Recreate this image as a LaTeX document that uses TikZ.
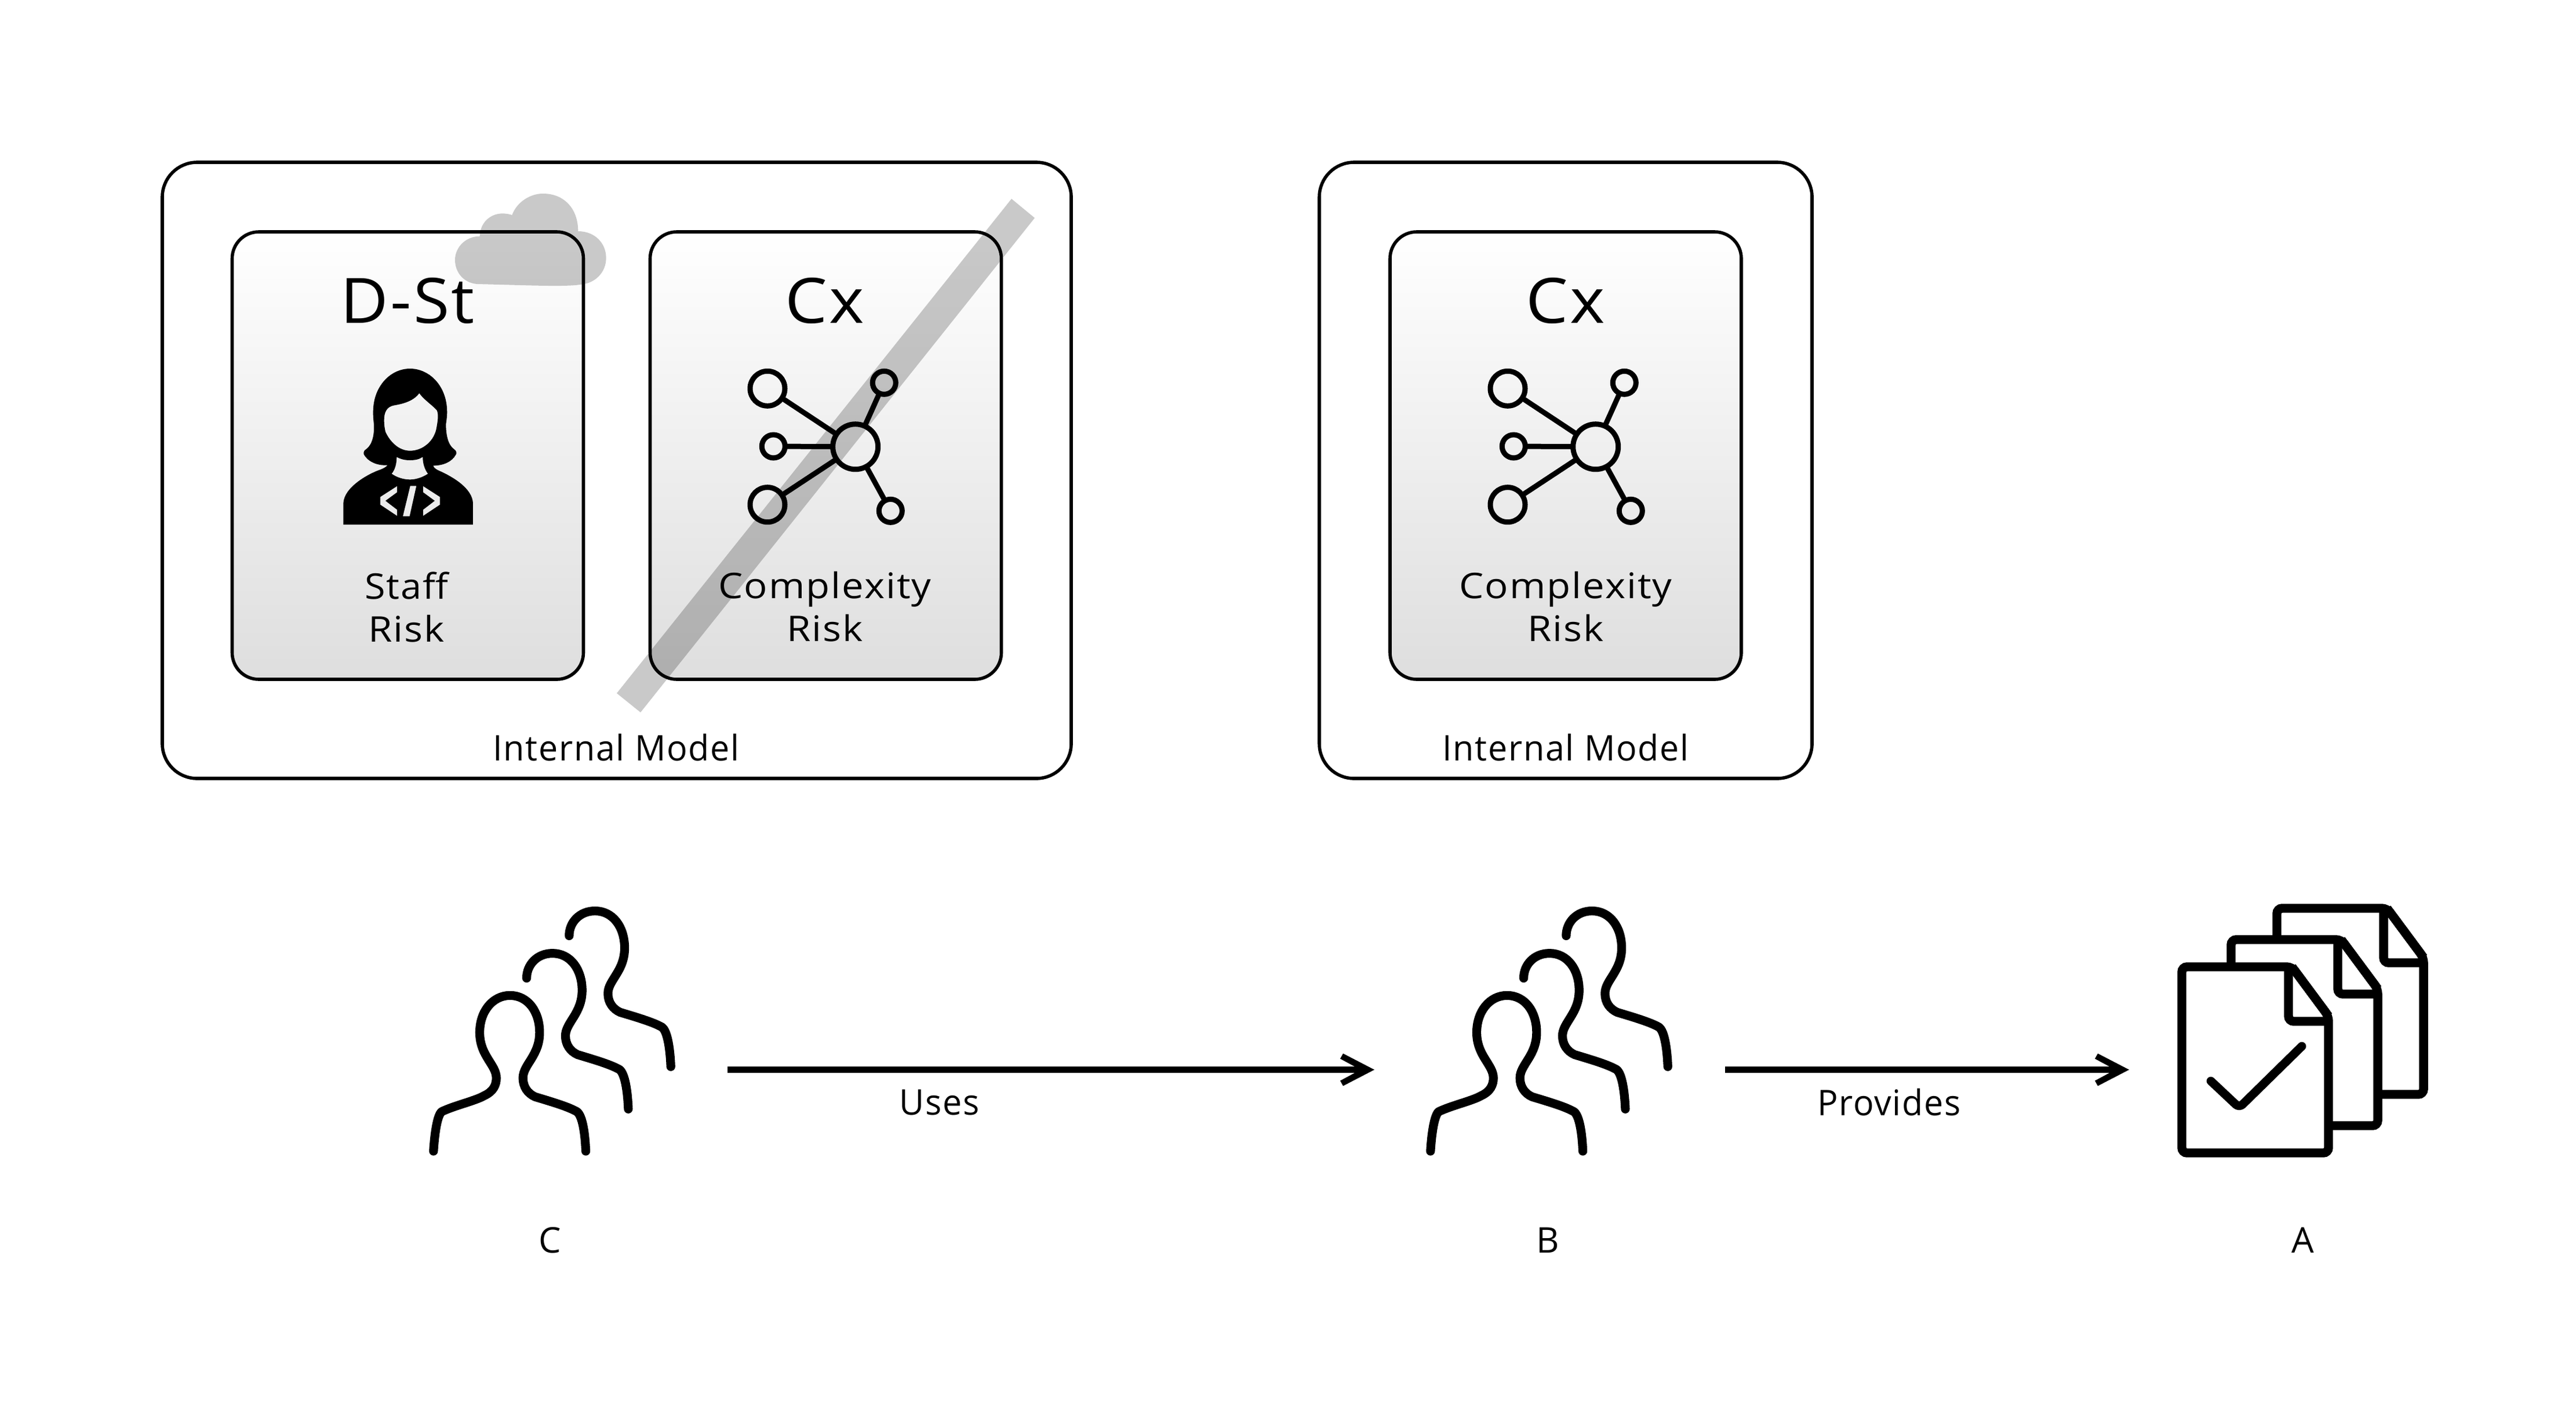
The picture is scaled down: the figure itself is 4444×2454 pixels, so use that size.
\documentclass[tikz,border=0pt]{standalone}
\usepackage{fontspec}
\setmainfont{Open Sans}[LetterSpace=3]
\usetikzlibrary{calc}
\definecolor{panelbottom}{HTML}{DEDEDE}
\newcommand{\widen}[2]{\scalebox{#1}[1]{#2}}
\tikzset{
  outerbox/.style={draw=black,line width=1.4pt,fill=white,rounded corners=15pt,minimum height=265.75pt,inner sep=0pt},
  riskbox/.style={draw=black,line width=1.4pt,rounded corners=11.5pt,top color=white,bottom color=panelbottom,
    minimum width=151.5pt,minimum height=193pt,inner sep=0pt},
  bigtext/.style={font=\fontsize{27pt}{32pt}\selectfont,inner sep=0pt},
  smalltext/.style={font=\fontsize{15.25pt}{18.5pt}\selectfont,inner sep=0pt,align=center},
  flowline/.style={line width=2.75pt,shorten >=5pt},
  ghost/.style={fill=black,fill opacity=.21},
  hub/.style={circle,draw=black,line width=2.25pt,inner sep=0pt,outer sep=0pt},
  netlink/.style={line width=2.25pt},
  personline/.style={line width=3.8pt,line cap=round,line join=round},
  sheet/.style={draw=black,line width=3.85pt,fill=white,rounded corners=2.2pt},
  netIcon/.pic={
    \node[hub,minimum size=19.5pt] (c) at (225.7,170.7) {};
    \node[hub,minimum size=15pt] (tl) at (74,70.3) {};
    \node[hub,minimum size=10pt] (ml) at (84.3,170) {};
    \node[hub,minimum size=15pt] (bl) at (74,270.7) {};
    \node[hub,minimum size=10pt] (tr) at (275.3,60.3) {};
    \node[hub,minimum size=10pt] (br) at (286.3,281.3) {};
    \draw[netlink] (tl) -- (c);
    \draw[netlink] (ml) -- (c);
    \draw[netlink] (bl) -- (c);
    \draw[netlink] (tr) -- (c);
    \draw[netlink] (br) -- (c);
  },
  peopleIcon/.pic={
    \begin{scope}[x=.15944pt,y=-.09567pt]
    \draw[personline] (75,1270) .. controls (78,1190) and (85,1110) .. (97,1092) .. controls (130,1065) and (190,1042) .. (212,1020) .. controls (238,1000) and (245,970) .. (245,940) .. controls (245,880) and (200,840) .. (200,735) .. controls (200,640) and (235,568) .. (282,568) .. controls (330,568) and (362,640) .. (362,735) .. controls (362,840) and (317,880) .. (317,940) .. controls (317,980) and (330,1010) .. (350,1025) .. controls (400,1050) and (440,1070) .. (463,1092) .. controls (478,1110) and (485,1190) .. (487,1270);
    \foreach \dx/\dy in {115/-190,230/-381} {
      \begin{scope}[shift={(\dx,\dy)}]
      \draw[personline] (212,680) .. controls (212,620) and (240,568) .. (282,568) .. controls (330,568) and (362,640) .. (362,735) .. controls (362,840) and (317,880) .. (317,940) .. controls (317,980) and (330,1010) .. (350,1025) .. controls (400,1050) and (440,1070) .. (463,1092) .. controls (478,1110) and (485,1190) .. (487,1270);
      \end{scope}
    }
    \end{scope}
  },
  sheetIcon/.pic={
    \path[sheet] (0,0) -- (190,0) -- (253,85) -- (253,321) -- (0,321) -- cycle;
    \draw[line width=3.85pt,rounded corners=2.2pt] (184,0) -- (184,94) -- (253,94);
    \draw[line width=3.85pt,line join=round] (190,0) -- (253,85);
  },
  openHead/.pic={
    \fill (0,0) -- (-54,-28) -- (-59,-19) -- (-34,-5.5) -- (-34,5.5) -- (-59,19) -- (-54,28) -- cycle;
  }
}
\begin{document}
\begin{tikzpicture}[x=.25pt,y=-.25pt]
\useasboundingbox[fill=white] (0,0) rectangle (4444,2454);

% panels
\node[outerbox,minimum width=392pt] (modelA) at (1064,811.5) {};
\node[outerbox,minimum width=212.5pt] (modelB) at (2701,811.5) {};
\node[riskbox] (staff) at (703.5,786) {};
\node[riskbox] (cxA) at (1424.5,786) {};
\node[riskbox] (cxB) at (2701,786) {};

% panel texts
\node[bigtext] (tStaff) at (703,519) {\widen{1.05}{D-St}};
\node[bigtext] (tCxA) at (1423,519) {\widen{1.07}{Cx}};
\node[bigtext] (tCxB) at (2701,519) {\widen{1.07}{Cx}};
\node[smalltext] (lStaff) at (701,1047) {\widen{1.06}{Staff}\\\widen{1.1}{Risk}};
\node[smalltext] (lCxA) at (1423,1047) {\widen{1.1}{Complexity}\\\widen{1.1}{Risk}};
\node[smalltext] (lCxB) at (2701,1047) {\widen{1.1}{Complexity}\\\widen{1.1}{Risk}};
\node[smalltext] (imA) at (1063,1290) {\widen{.97}{Internal Model}};
\node[smalltext] (imB) at (2701,1290) {\widen{.97}{Internal Model}};

% woman icon
\begin{scope}[shift={(560,600)},x=.08333pt,y=-.08333pt]
\fill[even odd rule]
 (97,915) -- (97,805) .. controls (100,720) and (230,650) .. (290,630) .. controls (310,622) and (320,615) .. (325,608) .. controls (270,610) and (225,590) .. (203,552) .. controls (200,540) and (205,530) .. (215,525) .. controls (250,500) and (258,440) .. (255,395) .. controls (250,350) and (250,330) .. (253,300) .. controls (265,190) and (345,108) .. (442,108) .. controls (540,108) and (620,190) .. (632,300) .. controls (635,330) and (635,350) .. (628,395) .. controls (628,440) and (635,500) .. (670,525) .. controls (682,532) and (685,545) .. (680,552) .. controls (660,590) and (615,610) .. (562,610) .. controls (565,620) and (575,628) .. (590,635) .. controls (670,670) and (765,730) .. (768,805) -- (768,915) -- cycle
 (308,375) .. controls (308,335) and (320,305) .. (360,298) .. controls (420,288) and (465,270) .. (490,235) .. controls (510,265) and (560,300) .. (580,322) .. controls (590,340) and (587,370) .. (580,410) .. controls (570,480) and (510,533) .. (442,533) .. controls (380,533) and (335,480) .. (315,435) .. controls (310,415) and (308,395) .. (308,375) -- cycle
 (373,565) .. controls (395,578) and (420,582) .. (442,582) .. controls (465,582) and (490,578) .. (508,565) .. controls (508,600) and (518,630) .. (535,652) .. controls (505,672) and (470,682) .. (442,682) .. controls (410,682) and (375,672) .. (347,652) .. controls (365,630) and (373,600) .. (373,565) -- cycle
 (375,716) -- (288,772) -- (288,812) -- (375,870) -- (375,838) -- (315,792) -- (375,748) -- cycle
 (443,715) -- (475,715) -- (440,872) -- (405,872) -- cycle
 (510,716) -- (597,772) -- (597,812) -- (510,870) -- (510,838) -- (570,792) -- (510,748) -- cycle;
\end{scope}

% network icons
\pic (netA) at (1250,600) {netIcon};
\pic (netB) at (2527,600) {netIcon};

% strike-through bar and cloud
\fill[ghost] (1745,343) -- (1785,376) -- (1105,1229) -- (1064,1196) -- cycle;
\begin{scope}[shift={(760,310)},x=.08333pt,y=-.08333pt]
\fill[ghost] (203,293) .. controls (205,220) and (260,175) .. (320,175) .. controls (340,175) and (355,178) .. (370,183) .. controls (395,115) and (465,72) .. (530,72) .. controls (640,72) and (712,150) .. (712,267) .. controls (800,267) and (857,330) .. (857,405) .. controls (857,480) and (800,535) .. (730,542) .. controls (650,555) and (500,548) .. (190,540) .. controls (120,535) and (75,480) .. (75,415) .. controls (75,350) and (130,293) .. (203,293) -- cycle;
\end{scope}

% people and documents
\pic (groupC) at (700,1500) {peopleIcon};
\pic (groupB) at (2420,1500) {peopleIcon};
\pic (sheet3) at (3928,1567) {sheetIcon};
\pic (sheet2) at (3849,1621) {sheetIcon};
\pic (sheet1) at (3764,1668) {sheetIcon};
\draw[line width=3.7pt,line cap=round,line join=round,rounded corners=2pt] (3814,1865) -- (3863,1911) -- (3971,1805);

% flow
\coordinate (useStart) at (1255,1845.5);
\coordinate (useEnd) at (2371,1845.5);
\coordinate (provStart) at (2976,1845.5);
\coordinate (provEnd) at (3673,1845.5);
\draw[flowline] (useStart) -- (useEnd);
\pic at (useEnd) {openHead};
\draw[flowline] (provStart) -- (provEnd);
\pic at (provEnd) {openHead};
\node[smalltext] (uses) at (1621,1902) {\widen{.97}{Uses}};
\node[smalltext] (provides) at (3259,1902) {\widen{.97}{Provides}};
\node[smalltext] (labC) at (949,2140) {C};
\node[smalltext] (labB) at (2670,2140) {B};
\node[smalltext] (labA) at (3973,2140) {A};
\end{tikzpicture}
\end{document}
